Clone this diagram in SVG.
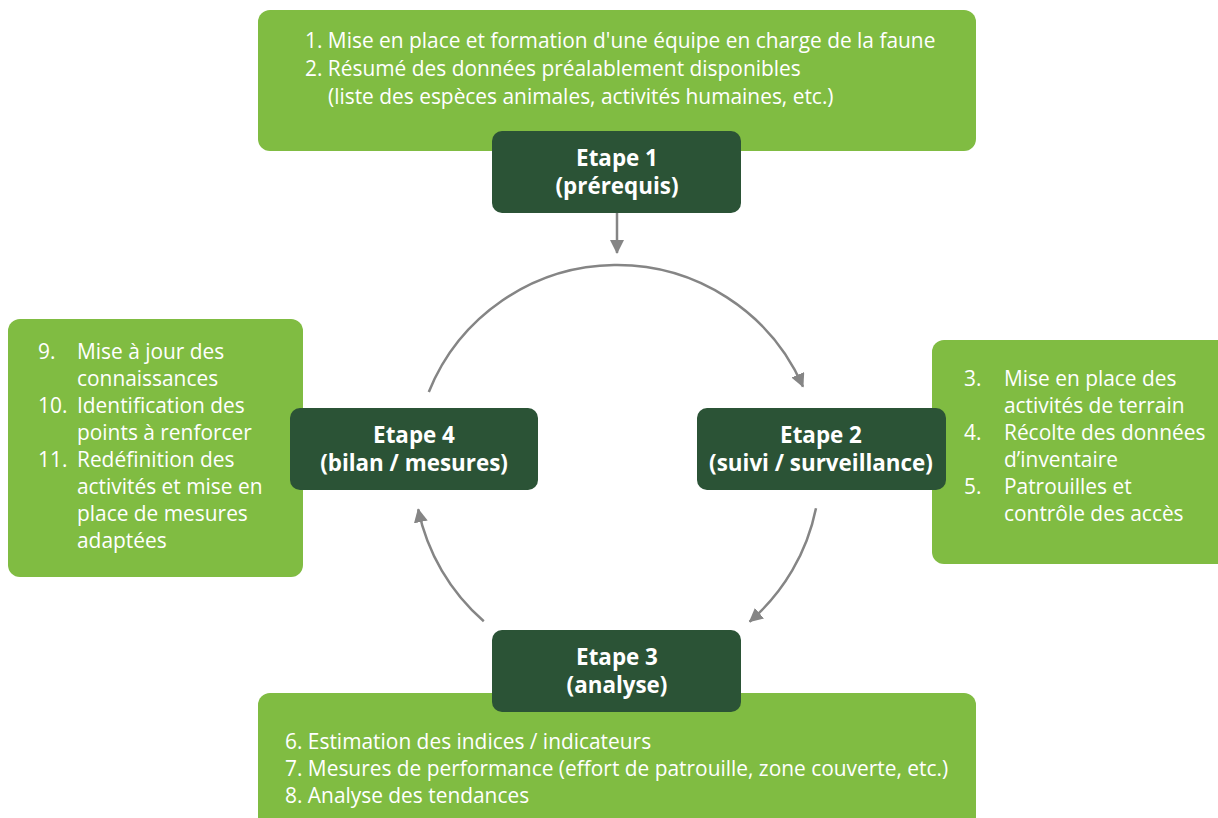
<svg xmlns="http://www.w3.org/2000/svg" width="1218" height="818" viewBox="0 0 1218 818">
<style>
.lg{fill:#80BC42}
.dk{fill:#2B5336}
text{font-family:"Open Sans",Lato,"Liberation Sans",sans-serif;fill:#fff}
.t{font-size:20.9px}
.b{font-size:22.4px;font-weight:bold;text-anchor:middle}
.c{fill:none;stroke:#858585;stroke-width:2.5}
</style>
<defs>
<marker id="ah" markerUnits="userSpaceOnUse" markerWidth="16" markerHeight="16" refX="13" refY="7" orient="auto">
<path d="M0,0 L14,7 L0,14 z" fill="#858585"/>
</marker>
</defs>
<g id="note1">
<rect class="lg" x="258" y="10" width="718" height="141" rx="12"/>
<text class="t" x="305" y="48">1. Mise en place et formation d'une équipe en charge de la faune</text>
<text class="t" x="305" y="76">2. Résumé des données préalablement disponibles</text>
<text class="t" x="328" y="104">(liste des espèces animales, activités humaines, etc.)</text>
</g>
<g id="note3">
<rect class="lg" x="258" y="693" width="718" height="140" rx="12"/>
<text class="t" x="285" y="749">6. Estimation des indices / indicateurs</text>
<text class="t" x="285" y="776">7. Mesures de performance (effort de patrouille, zone couverte, etc.)</text>
<text class="t" x="285" y="803">8. Analyse des tendances</text>
</g>
<g id="note4">
<rect class="lg" x="8" y="319" width="295" height="258" rx="12"/>
<text class="t" x="38" y="359">9.</text>
<text class="t" x="77" y="359">Mise à jour des</text>
<text class="t" x="77" y="386">connaissances</text>
<text class="t" x="38" y="413">10.</text>
<text class="t" x="77" y="413">Identification des</text>
<text class="t" x="77" y="440">points à renforcer</text>
<text class="t" x="38" y="467">11.</text>
<text class="t" x="77" y="467">Redéfinition des</text>
<text class="t" x="77" y="494">activités et mise en</text>
<text class="t" x="77" y="521">place de mesures</text>
<text class="t" x="77" y="548">adaptées</text>
</g>
<g id="note2">
<rect class="lg" x="932" y="340" width="300" height="224" rx="12"/>
<text class="t" x="964" y="386">3.</text>
<text class="t" x="1004" y="386">Mise en place des</text>
<text class="t" x="1004" y="413">activités de terrain</text>
<text class="t" x="964" y="440">4.</text>
<text class="t" x="1004" y="440">Récolte des données</text>
<text class="t" x="1004" y="467">d’inventaire</text>
<text class="t" x="964" y="494">5.</text>
<text class="t" x="1004" y="494">Patrouilles et</text>
<text class="t" x="1004" y="521">contrôle des accès</text>
</g>
<g id="etape1">
<rect class="dk" x="492" y="131" width="249" height="82" rx="10"/>
<text class="b" x="617" y="166">Etape 1</text>
<text class="b" x="617" y="194">(prérequis)</text>
</g>
<g id="etape2">
<rect class="dk" x="697" y="408" width="249" height="82" rx="10"/>
<text class="b" x="821" y="443">Etape 2</text>
<text class="b" x="821" y="471">(suivi / surveillance)</text>
</g>
<g id="etape3">
<rect class="dk" x="492" y="630" width="249" height="82" rx="10"/>
<text class="b" x="617" y="665">Etape 3</text>
<text class="b" x="617" y="693">(analyse)</text>
</g>
<g id="etape4">
<rect class="dk" x="290" y="408" width="248" height="82" rx="10"/>
<text class="b" x="414" y="443">Etape 4</text>
<text class="b" x="414" y="471">(bilan / mesures)</text>
</g>
<g id="connectors">
<path class="c" d="M617,213 L617,253" marker-end="url(#ah)"/>
<path class="c" d="M428.8,392 A203,203 0 0 1 803,386.7" marker-end="url(#ah)"/>
<path class="c" d="M816,508.2 A203,203 0 0 1 749.6,621.7" marker-end="url(#ah)"/>
<path class="c" d="M483.8,621.2 A203,203 0 0 1 418.2,509.2" marker-end="url(#ah)"/>
</g>
</svg>
